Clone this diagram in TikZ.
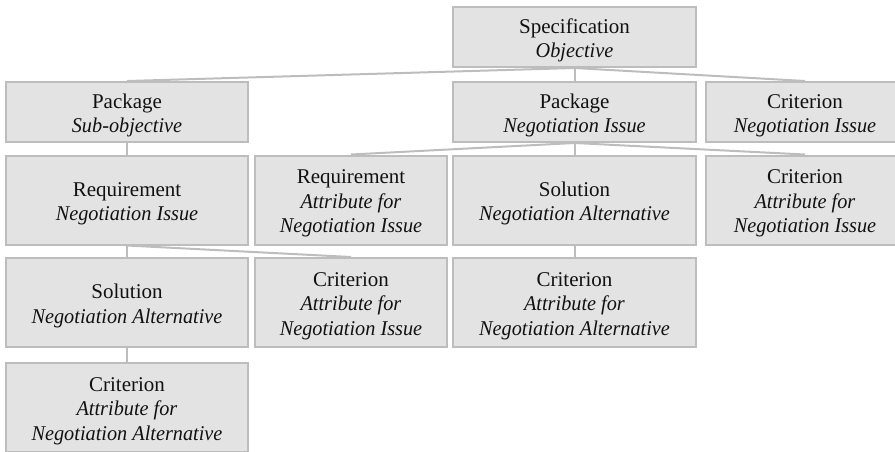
\documentclass[tikz,border=0pt]{standalone}
\usepackage{fontspec}
\setmainfont{Liberation Serif}[ItalicFeatures={FakeStretch=0.965}]
\definecolor{boxfill}{HTML}{E3E3E3}
\definecolor{boxline}{HTML}{BDBDBD}
\definecolor{txt}{HTML}{111111}
\newcommand{\topstrut}{\rule{0pt}{21pt}}
\begin{document}
\begin{tikzpicture}[x=1pt,y=1pt,
  box/.style={draw=boxline, fill=boxfill, line width=2pt, align=center, inner sep=0pt,
    text=txt, font=\fontsize{21}{24.5}\selectfont},
  cA/.style={minimum width=242pt}, cB/.style={minimum width=192pt},
  cC/.style={minimum width=243pt}, cD/.style={minimum width=198pt},
  rS/.style={minimum height=60pt}, rT/.style={minimum height=89pt},
  conn/.style={draw=boxline, line width=2pt}]
\useasboundingbox (0,0) rectangle (895,-451);
\clip (0,0) rectangle (895,-451);
% row 1
\node[box,cC,rS] (spec) at (574.5,-37) {\topstrut Specification\\\textit{Objective}};
% row 2
\node[box,cA,rS] (pkgsub) at (127,-112) {\topstrut Package\\\textit{Sub-objective}};
\node[box,cC,rS] (pkgneg) at (574.5,-112) {\topstrut Package\\\textit{Negotiation Issue}};
\node[box,cD,rS] (critneg) at (805,-112) {\topstrut Criterion\\\textit{Negotiation Issue}};
% row 3
\node[box,cA,rT] (reqneg) at (127,-200) {\topstrut Requirement\\\textit{Negotiation Issue}};
\node[box,cB,rT] (reqattr) at (351,-200) {\topstrut Requirement\\\textit{Attribute for}\\\textit{Negotiation Issue}};
\node[box,cC,rT] (solneg) at (574.5,-200) {\topstrut Solution\\\textit{Negotiation Alternative}};
\node[box,cD,rT] (critattr) at (805,-200) {\topstrut Criterion\\\textit{Attribute for}\\\textit{Negotiation Issue}};
% row 4
\node[box,cA,rT] (solleft) at (127,-302.5) {\topstrut Solution\\\textit{Negotiation Alternative}};
\node[box,cB,rT] (critattrissue) at (351,-302.5) {\topstrut Criterion\\\textit{Attribute for}\\\textit{Negotiation Issue}};
\node[box,cC,rT] (critattralt) at (574.5,-302.5) {\topstrut Criterion\\\textit{Attribute for}\\\textit{Negotiation Alternative}};
% row 5
\node[box,cA,rT] (critleft) at (127,-407.5) {\topstrut Criterion\\\textit{Attribute for}\\\textit{Negotiation Alternative}};
% connectors
\draw[conn] (spec.south) -- (pkgsub.north);
\draw[conn] (spec.south) -- (pkgneg.north);
\draw[conn] (spec.south) -- (critneg.north);
\draw[conn] (pkgsub.south) -- (reqneg.north);
\draw[conn] (pkgneg.south) -- (reqattr.north);
\draw[conn] (pkgneg.south) -- (solneg.north);
\draw[conn] (pkgneg.south) -- (critattr.north);
\draw[conn] (reqneg.south) -- (solleft.north);
\draw[conn] (reqneg.south) -- (critattrissue.north);
\draw[conn] (solneg.south) -- (critattralt.north);
\draw[conn] (solleft.south) -- (critleft.north);
\end{tikzpicture}
\end{document}
